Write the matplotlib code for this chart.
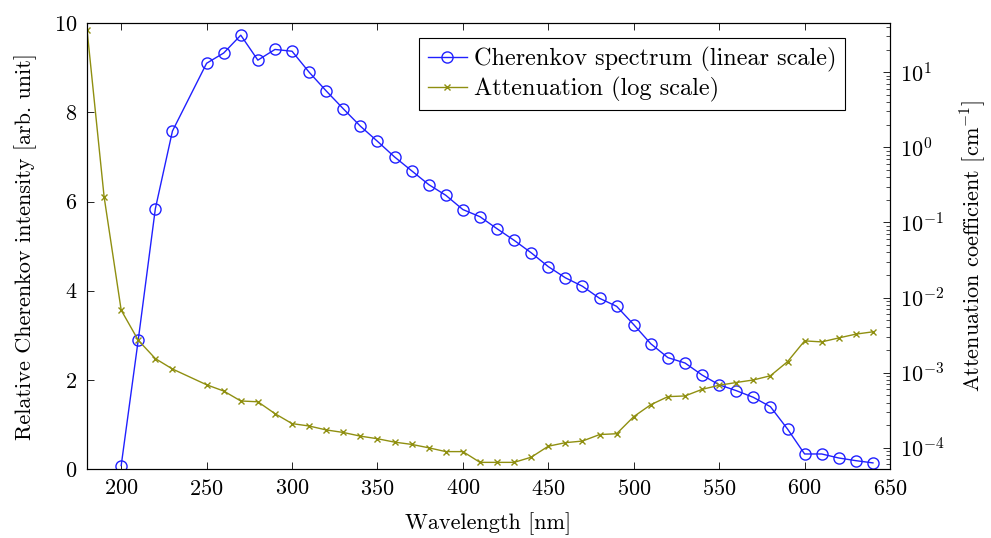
import matplotlib
matplotlib.use("Agg")
import matplotlib.pyplot as plt
from matplotlib.ticker import LogLocator, NullFormatter

plt.rcParams["font.family"] = "serif"
plt.rcParams["font.serif"] = ["cmr10"]
plt.rcParams["mathtext.fontset"] = "cm"
plt.rcParams["axes.formatter.use_mathtext"] = True
plt.rcParams["font.size"] = 16

# Cherenkov spectrum (linear, left axis)
wl_ch = [200, 210, 220, 230, 250, 260, 270, 280, 290, 300, 310, 320, 330, 340,
         350, 360, 370, 380, 390, 400, 410, 420, 430, 440, 450, 460, 470, 480,
         490, 500, 510, 520, 530, 540, 550, 560, 570, 580, 590, 600, 610, 620,
         630, 640]
cherenkov = [0.08, 2.9, 5.84, 7.58, 9.10, 9.33, 9.73, 9.17, 9.41, 9.37, 8.90,
             8.48, 8.08, 7.69, 7.35, 7.00, 6.69, 6.38, 6.14, 5.82, 5.66, 5.39,
             5.13, 4.85, 4.54, 4.29, 4.10, 3.83, 3.65, 3.24, 2.81, 2.50, 2.38,
             2.11, 1.89, 1.76, 1.61, 1.40, 0.90, 0.34, 0.34, 0.25, 0.19, 0.14]

# attenuation coefficient (log, right axis)
wl_att = [180, 190, 200, 210, 220, 230, 250, 260, 270, 280, 290, 300, 310, 320,
          330, 340, 350, 360, 370, 380, 390, 400, 410, 420, 430, 440, 450, 460,
          470, 480, 490, 500, 510, 520, 530, 540, 550, 560, 570, 580, 590, 600,
          610, 620, 630, 640]
attenuation = [37, 0.22, 6.8e-3, 2.7e-3, 1.54e-3, 1.12e-3, 6.9e-4, 5.7e-4,
               4.2e-4, 4.1e-4, 2.85e-4, 2.1e-4, 1.95e-4, 1.73e-4, 1.6e-4,
               1.43e-4, 1.32e-4, 1.19e-4, 1.11e-4, 1.0e-4, 8.9e-5, 8.9e-5,
               6.4e-5, 6.4e-5, 6.4e-5, 7.5e-5, 1.05e-4, 1.17e-4, 1.23e-4,
               1.5e-4, 1.54e-4, 2.6e-4, 3.75e-4, 4.8e-4, 4.9e-4, 6.0e-4,
               6.8e-4, 7.4e-4, 8.0e-4, 9.1e-4, 1.4e-3, 2.65e-3, 2.57e-3,
               2.9e-3, 3.26e-3, 3.5e-3]

blue = "#2020ff"
olive = "#8f8f10"

fig = plt.figure(figsize=(9.91, 5.38), dpi=100)
ax = fig.add_axes([0.0878, 0.128, 0.8103, 0.829])
ax2 = ax.twinx()

l1, = ax.plot(wl_ch, cherenkov, color=blue, marker="o", mfc="none", ms=8,
              mew=1.0, lw=1.0, label="Cherenkov spectrum (linear scale)")
l2, = ax2.plot(wl_att, attenuation, color=olive, marker="x", ms=5,
               mew=1.0, lw=1.0, label="Attenuation (log scale)")

ax.set_xlim(180, 650)
ax.set_ylim(0, 10)
ax.set_xticks(range(200, 651, 50))
ax.set_yticks(range(0, 11, 2))
ax.tick_params(direction="in", top=True, right=False, length=5, width=0.6,
               pad=7)
ax.set_xlabel("Wavelength [nm]", labelpad=10)
ax.set_ylabel("Relative Cherenkov intensity [arb. unit]", labelpad=12)

ax2.set_yscale("log")
ax2.set_ylim(5.2e-5, 45)
ax2.yaxis.set_major_locator(LogLocator(base=10, numticks=20))
ax2.yaxis.set_minor_locator(LogLocator(base=10, subs=range(2, 10), numticks=20))
ax2.yaxis.set_minor_formatter(NullFormatter())
ax2.tick_params(which="major", direction="in", length=5, width=0.6, pad=7)
ax2.tick_params(which="minor", direction="in", length=3, width=0.5)
ax2.set_ylabel("Attenuation coefficient [cm$^{-1}$]", labelpad=10)

for a in (ax, ax2):
    for s in a.spines.values():
        s.set_linewidth(0.8)

leg = ax2.legend(handles=[l1, l2], loc="upper right",
                 bbox_to_anchor=(0.944, 0.966), borderaxespad=0,
                 fancybox=False, edgecolor="black", framealpha=1,
                 handlelength=1.6, handletextpad=0.3, borderpad=0.35,
                 labelspacing=0.2, fontsize=17.5)
leg.get_frame().set_linewidth(0.8)

fig.savefig("out.png", dpi=100)
